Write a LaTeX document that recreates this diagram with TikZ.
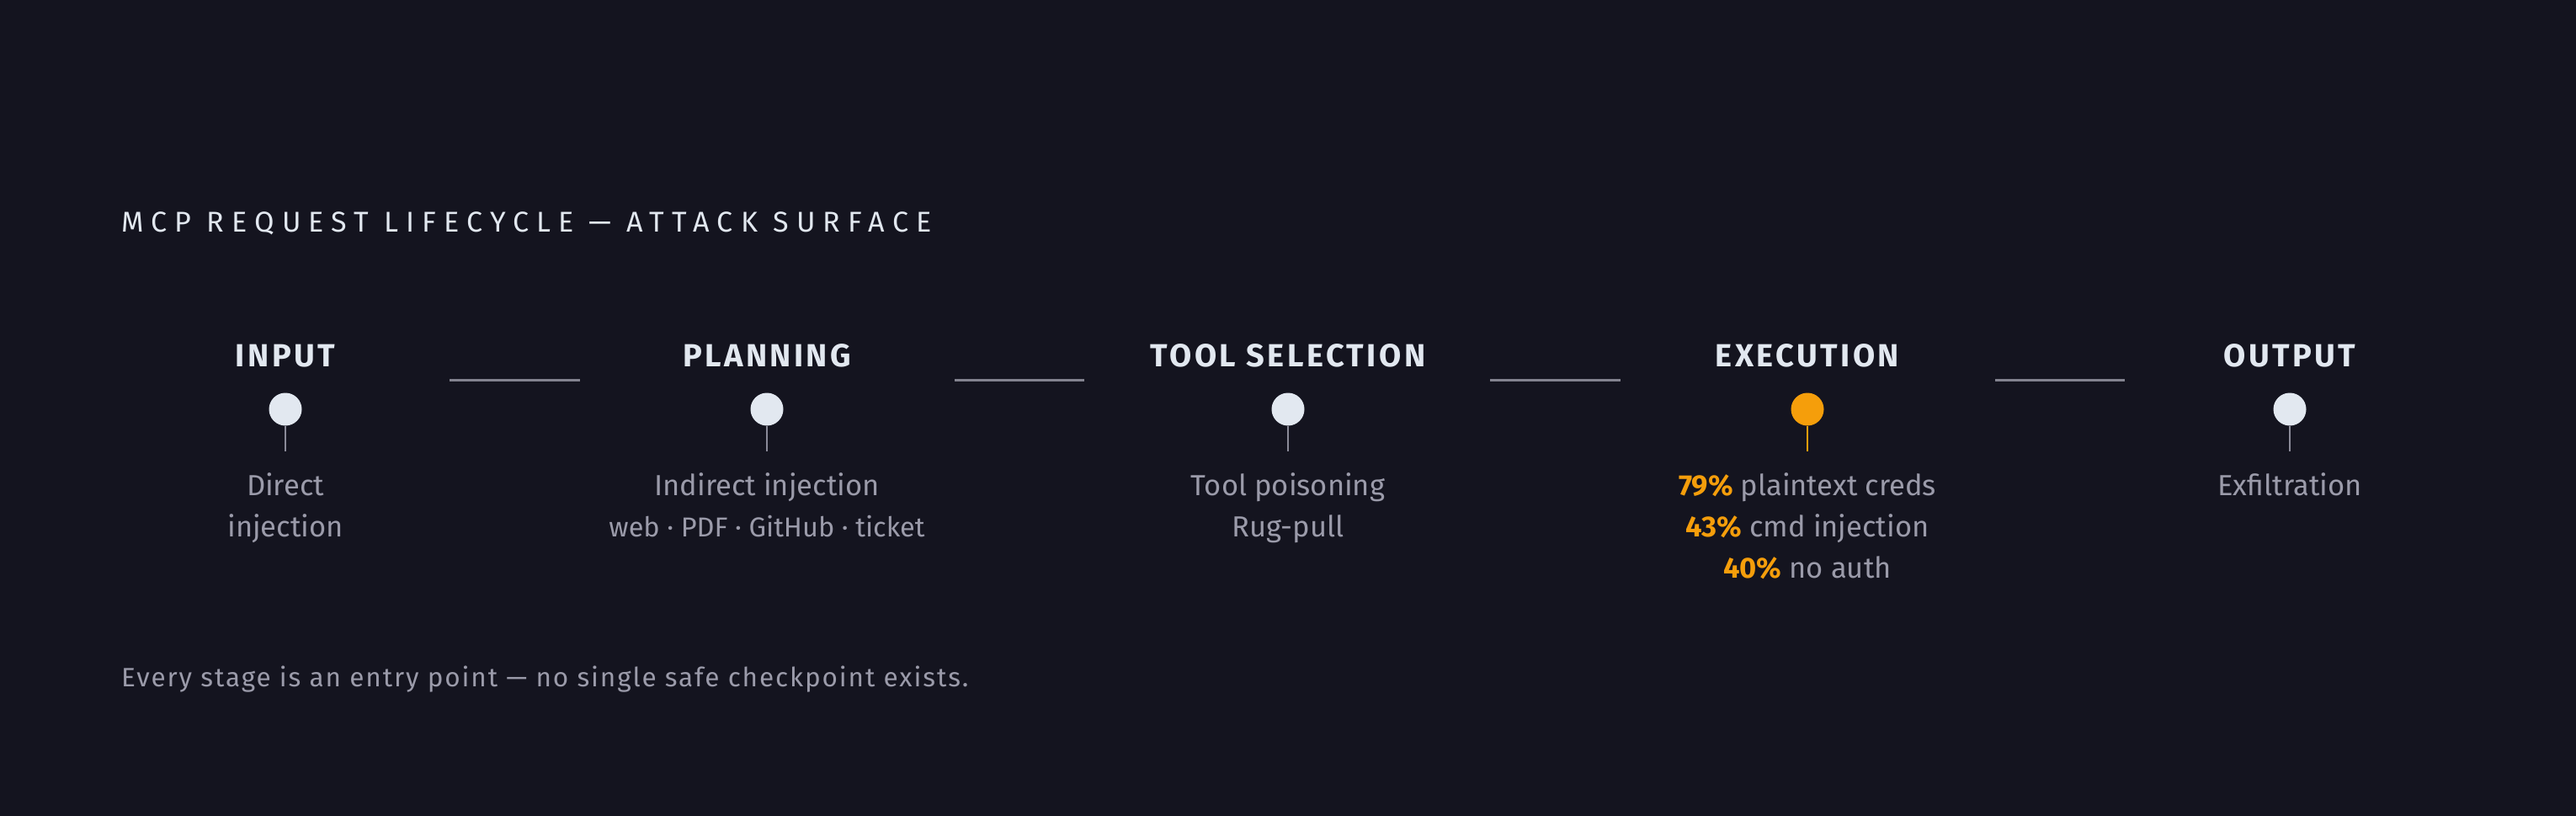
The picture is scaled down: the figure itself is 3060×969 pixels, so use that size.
\documentclass[tikz,border=0pt]{standalone}
\usepackage{fontspec}
\setmainfont{Fira Sans}
\newfontfamily\titlefont[LetterSpace=27]{Fira Sans}
\newfontfamily\headfont[LetterSpace=9]{Fira Sans}
\newfontfamily\footfont[LetterSpace=6]{Fira Sans}
\definecolor{bgc}{HTML}{14141F}
\definecolor{headc}{HTML}{E2E8F0}
\definecolor{descc}{HTML}{9B9BAA}
\definecolor{linkc}{HTML}{83838F}
\definecolor{stemc}{HTML}{8A8A98}
\definecolor{accent}{HTML}{F59E0B}
\begin{document}
\begin{tikzpicture}[x=1pt,y=-1pt,
  stagehead/.style={anchor=base, inner sep=0pt, text=headc, font=\headfont\bfseries\fontsize{38}{44}\selectfont},
  desc/.style={anchor=base, inner sep=0pt, text=descc, font=\fontsize{34.5}{42}\selectfont},
  descsmall/.style={anchor=base, inner sep=0pt, text=descc, font=\fontsize{32.5}{38}\selectfont},
  pin/.style={circle, fill=#1, minimum size=39pt, inner sep=0pt},
  stem/.style={line width=2pt, draw=#1},
  link/.style={line width=3pt, draw=linkc},
  num/.style={text=accent, font=\bfseries}
]
\fill[bgc] (0,0) rectangle (3060,969);
\useasboundingbox (0,0) rectangle (3060,969);

\node[anchor=base west, inner sep=0pt, text=headc, font=\titlefont\fontsize{34}{40}\selectfont] (title) at (144,275) {MCP REQUEST LIFECYCLE — ATTACK SURFACE};

% stage 1
\node[stagehead] (h1) at (339,435) {INPUT};
\node[pin=headc] (p1) at (339,486) {};
\coordinate (s1) at (339,536);
\draw[stem=stemc] (p1.south) -- (s1);
\node[desc] (d1a) at (339,588) {Direct};
\node[desc] (d1b) at (339,637) {injection};

% stage 2
\node[stagehead] (h2) at (911,435) {PLANNING};
\node[pin=headc] (p2) at (911,486) {};
\coordinate (s2) at (911,536);
\draw[stem=stemc] (p2.south) -- (s2);
\node[desc] (d2a) at (911,588) {Indirect injection};
\node[descsmall] (d2b) at (911,637) {web · PDF · GitHub · ticket};

% stage 3
\node[stagehead] (h3) at (1530,435) {TOOL SELECTION};
\node[pin=headc] (p3) at (1530,486) {};
\coordinate (s3) at (1530,536);
\draw[stem=stemc] (p3.south) -- (s3);
\node[desc] (d3a) at (1530,588) {Tool poisoning};
\node[desc] (d3b) at (1530,637) {Rug-pull};

% stage 4
\node[stagehead] (h4) at (2147,435) {EXECUTION};
\node[pin=accent] (p4) at (2147,486) {};
\coordinate (s4) at (2147,536);
\draw[stem=accent] (p4.south) -- (s4);
\node[desc] (d4a) at (2147,588) {\textcolor{accent}{\bfseries 79\%} plaintext creds};
\node[desc] (d4b) at (2147,637) {\textcolor{accent}{\bfseries 43\%} cmd injection};
\node[desc] (d4c) at (2147,686) {\textcolor{accent}{\bfseries 40\%} no auth};

% stage 5
\node[stagehead] (h5) at (2720,435) {OUTPUT};
\node[pin=headc] (p5) at (2720,486) {};
\coordinate (s5) at (2720,536);
\draw[stem=stemc] (p5.south) -- (s5);
\node[desc] (d5a) at (2720,588) {Exfiltration};

% links between stages
\coordinate (l1a) at (534,451); \coordinate (l1b) at (689,451);
\coordinate (l2a) at (1134,451); \coordinate (l2b) at (1288,451);
\coordinate (l3a) at (1770,451); \coordinate (l3b) at (1925,451);
\coordinate (l4a) at (2370,451); \coordinate (l4b) at (2524,451);
\draw[link] (l1a) -- (l1b);
\draw[link] (l2a) -- (l2b);
\draw[link] (l3a) -- (l3b);
\draw[link] (l4a) -- (l4b);

\node[anchor=base west, inner sep=0pt, text=descc, font=\footfont\fontsize{31.5}{38}\selectfont] (foot) at (144,815) {Every stage is an entry point — no single safe checkpoint exists.};
\end{tikzpicture}
\end{document}
